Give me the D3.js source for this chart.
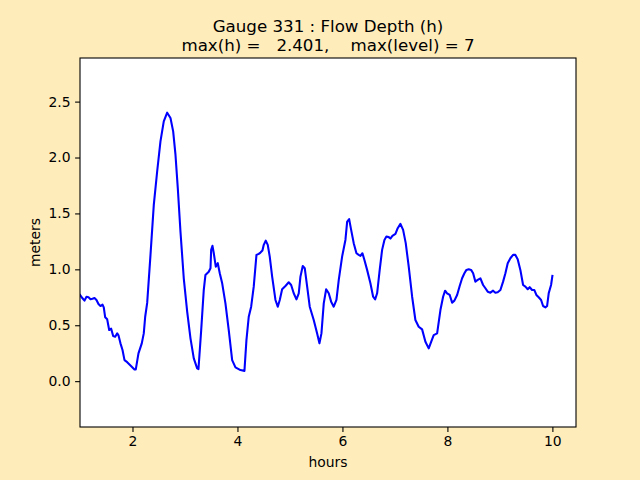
<!DOCTYPE html>
<html>
<head>
<meta charset="utf-8">
<script src="https://cdn.jsdelivr.net/npm/d3@7"></script>
<style>
html,body{margin:0;padding:0;background:#ffecbb;}
svg{display:block;}
text{font-family:"DejaVu Sans",sans-serif;fill:#000;}
</style>
</head>
<body>
<svg id="chart" width="640" height="480"></svg>
<script>
const titleLines = ["Gauge 331 : Flow Depth (h)", "max(h) =   2.401,    max(level) = 7"];
const xLabel = "hours";
const yLabel = "meters";
const xTicks = [2, 4, 6, 8, 10];
const yTicks = [0.0, 0.5, 1.0, 1.5, 2.0, 2.5];
const xDomain = [1.0, 10.45];
const yDomain = [-0.41, 2.89];

const hours = [1.000,1.048,1.086,1.124,1.162,1.200,1.238,1.276,1.314,1.352,1.390,1.429,1.453,1.480,1.518,1.556,1.594,1.632,1.670,1.709,1.733,1.771,1.810,1.848,1.899,1.962,2.038,2.063,2.114,2.177,2.215,2.242,2.280,2.343,2.406,2.470,2.533,2.596,2.661,2.724,2.775,2.819,2.863,2.914,2.977,3.042,3.105,3.168,3.232,3.257,3.309,3.358,3.390,3.453,3.486,3.499,3.524,3.549,3.587,3.625,3.663,3.709,3.771,3.834,3.899,3.962,4.057,4.133,4.171,4.215,4.261,4.310,4.362,4.406,4.438,4.476,4.501,4.539,4.577,4.615,4.661,4.724,4.768,4.806,4.851,4.914,4.977,5.023,5.072,5.124,5.168,5.200,5.244,5.282,5.328,5.377,5.453,5.518,5.562,5.600,5.644,5.690,5.739,5.785,5.834,5.886,5.930,5.994,6.057,6.090,6.128,6.166,6.215,6.267,6.310,6.343,6.381,6.419,6.470,6.533,6.585,6.623,6.661,6.710,6.756,6.800,6.838,6.882,6.914,6.952,7.010,7.053,7.105,7.156,7.206,7.263,7.328,7.390,7.453,7.518,7.581,7.644,7.690,7.739,7.804,7.867,7.918,7.956,7.994,8.044,8.090,8.133,8.185,8.234,8.280,8.324,8.362,8.406,8.451,8.490,8.533,8.577,8.629,8.680,8.724,8.768,8.819,8.870,8.914,8.958,9.010,9.061,9.105,9.149,9.200,9.251,9.295,9.339,9.390,9.442,9.486,9.530,9.568,9.613,9.657,9.695,9.739,9.785,9.823,9.867,9.899,9.930,9.975,10.000];

const depth = [0.771,0.741,0.720,0.755,0.750,0.732,0.737,0.744,0.726,0.690,0.672,0.684,0.660,0.571,0.553,0.457,0.469,0.403,0.397,0.427,0.410,0.338,0.278,0.188,0.170,0.141,0.105,0.105,0.248,0.338,0.427,0.576,0.700,1.129,1.577,1.875,2.144,2.323,2.401,2.354,2.234,2.025,1.727,1.338,0.920,0.621,0.383,0.203,0.114,0.108,0.457,0.815,0.950,0.979,1.010,1.174,1.210,1.144,1.024,1.055,0.965,0.875,0.696,0.457,0.188,0.123,0.099,0.092,0.367,0.576,0.666,0.845,1.129,1.138,1.150,1.168,1.219,1.257,1.219,1.114,0.935,0.726,0.666,0.726,0.822,0.851,0.884,0.860,0.786,0.732,0.786,0.935,1.030,1.010,0.845,0.666,0.547,0.427,0.338,0.427,0.696,0.822,0.786,0.711,0.666,0.726,0.905,1.114,1.263,1.427,1.449,1.353,1.234,1.144,1.129,1.120,1.144,1.084,0.995,0.875,0.755,0.732,0.786,0.995,1.174,1.263,1.293,1.288,1.275,1.299,1.317,1.368,1.407,1.353,1.234,1.024,0.755,0.547,0.487,0.463,0.352,0.293,0.352,0.412,0.427,0.636,0.755,0.809,0.786,0.771,0.702,0.720,0.771,0.851,0.920,0.965,0.995,1.001,0.995,0.965,0.890,0.905,0.920,0.860,0.831,0.800,0.791,0.809,0.791,0.795,0.815,0.890,0.965,1.055,1.099,1.129,1.129,1.091,0.995,0.860,0.845,0.822,0.840,0.815,0.815,0.771,0.750,0.726,0.672,0.660,0.672,0.786,0.860,0.941];

const margin = {left: 80, right: 64, top: 58, bottom: 53};
const W = 640, H = 480;
const svg = d3.select("#chart");

const x = d3.scaleLinear().domain(xDomain).range([margin.left, W - margin.right]);
const y = d3.scaleLinear().domain(yDomain).range([H - margin.bottom, margin.top]);

// axes background
svg.append("rect")
  .attr("x", margin.left).attr("y", margin.top)
  .attr("width", W - margin.left - margin.right)
  .attr("height", H - margin.top - margin.bottom)
  .attr("fill", "#fff");

const data = hours.map((h, i) => [h, depth[i]]);

svg.append("defs").append("clipPath").attr("id", "clip")
  .append("rect")
  .attr("x", margin.left).attr("y", margin.top)
  .attr("width", W - margin.left - margin.right)
  .attr("height", H - margin.top - margin.bottom);

svg.append("path")
  .datum(data)
  .attr("clip-path", "url(#clip)")
  .attr("fill", "none")
  .attr("stroke", "#0000ff")
  .attr("stroke-width", 2.08)
  .attr("stroke-linejoin", "round")
  .attr("stroke-linecap", "square")
  .attr("d", d3.line().x(d => x(d[0])).y(d => y(d[1])));

const xAxis = d3.axisBottom(x).tickValues(xTicks).tickFormat(d3.format("d")).tickSize(4.9).tickPadding(4.6);
const yAxis = d3.axisLeft(y).tickValues(yTicks).tickFormat(d3.format(".1f")).tickSize(4.9).tickPadding(4.6);

const gx = svg.append("g").attr("transform", `translate(0,${H - margin.bottom})`).call(xAxis);
const gy = svg.append("g").attr("transform", `translate(${margin.left},0)`).call(yAxis);
[gx, gy].forEach(g => {
  g.select(".domain").remove();
  g.selectAll(".tick line").attr("stroke", "#000").attr("stroke-width", 1.1);
  g.selectAll(".tick text").attr("font-size", "13.9px").attr("font-family", "DejaVu Sans").attr("fill", "#000");
});

// spines
svg.append("rect")
  .attr("x", margin.left).attr("y", margin.top)
  .attr("width", W - margin.left - margin.right)
  .attr("height", H - margin.top - margin.bottom)
  .attr("fill", "none").attr("stroke", "#000").attr("stroke-width", 1.1);

// title
svg.append("text").attr("x", (margin.left + W - margin.right) / 2).attr("y", 32)
  .attr("text-anchor", "middle").attr("font-size", "16.67px").attr("xml:space", "preserve")
  .style("white-space", "pre").text(titleLines[0]);
svg.append("text").attr("x", (margin.left + W - margin.right) / 2).attr("y", 51)
  .attr("text-anchor", "middle").attr("font-size", "16.67px").attr("xml:space", "preserve")
  .style("white-space", "pre").text(titleLines[1]);

// axis labels
svg.append("text").attr("x", (margin.left + W - margin.right) / 2).attr("y", 467)
  .attr("text-anchor", "middle").attr("font-size", "13.9px").text(xLabel);
svg.append("text").attr("transform", `translate(40,${(margin.top + H - margin.bottom) / 2}) rotate(-90)`)
  .attr("text-anchor", "middle").attr("font-size", "13.9px").text(yLabel);
</script>
</body>
</html>
